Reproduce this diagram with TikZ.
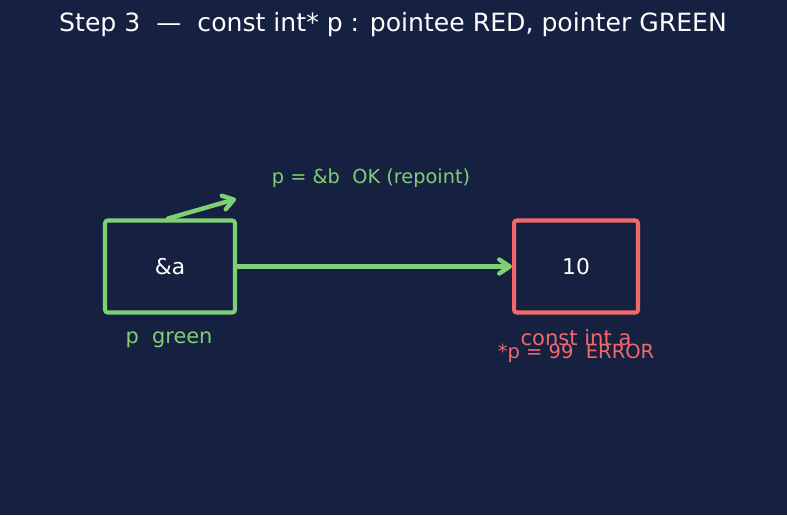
\documentclass[tikz,border=0pt]{standalone}
\usepackage{fontspec}
\setmainfont{DejaVu Sans}
\usetikzlibrary{arrows.meta,positioning}
\definecolor{bgnavy}{HTML}{162040}
\definecolor{ptrgreen}{HTML}{7FCF74}
\definecolor{errred}{HTML}{F06A6C}

\begin{document}
\begin{tikzpicture}[x=0.02cm, y=-0.02cm,
    cell/.style={rectangle, draw, line width=2.3pt, rounded corners=1.5pt,
                 minimum height=1.84cm, text=white, font=\fontsize{12.4}{14}\selectfont},
    lbl/.style={font=\fontsize{11.5}{14}\selectfont, inner sep=0pt},
    link/.style={line width=2.5pt, line cap=round, -{Straight Barb[length=6pt,width=8pt,round]}}]
  \fill[bgnavy] (0,0) rectangle (787,515);
  \node[font=\fontsize{14.3}{17}\selectfont, text=white] (title) at (393,25)
    {Step 3\ \ —\ \ const int* p : pointee RED, pointer GREEN};

  \node[cell, draw=ptrgreen, minimum width=2.6cm] (p) at (170,266.5) {\&a};
  \node[cell, draw=errred, minimum width=2.48cm] (a) at (576,266.5) {10};

  \node[lbl, text=ptrgreen, font=\fontsize{11.9}{14}\selectfont] (plbl) at (169,340) {p\ \ green};
  \node[lbl, text=errred, font=\fontsize{12}{14}\selectfont] (albl) at (576,338) {const int a};
  \node[lbl, text=errred, font=\fontsize{11.1}{13}\selectfont] (err) at (576,353.5) {*p = 99\ \ ERROR};

  % pointer -> pointee
  \draw[link, draw=ptrgreen] (p.east) -- (a.west);
  % repoint hint
  \coordinate (newtgt) at (236,199);
  \draw[link, draw=ptrgreen] ([xshift=-0.04cm]p.north) -- (newtgt);
  \node[lbl, text=ptrgreen, font=\fontsize{11}{13}\selectfont] (ok) at (371,178.5) {p = \&b\ \ OK (repoint)};
\end{tikzpicture}
\end{document}
